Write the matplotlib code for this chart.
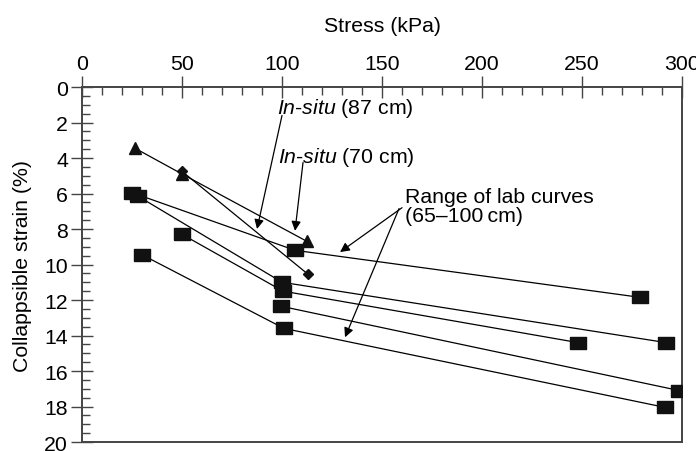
import matplotlib.pyplot as plt
from matplotlib.ticker import MultipleLocator

plt.rcParams["font.family"] = ["Liberation Sans", "DejaVu Sans"]
plt.rcParams["mathtext.fontset"] = "custom"
plt.rcParams["mathtext.rm"] = "Liberation Sans"
plt.rcParams["mathtext.it"] = "Liberation Sans:italic"

# ── Daten ─────────────────────────────────────────────────────────────────────
lab_stress = [
    [25, 106.5, 279],
    [28, 100, 292],
    [50, 100.5, 248],
    [99.5, 298.5],
    [30, 101, 291.5],
]
lab_strain = [
    [5.95, 9.2, 11.85],
    [6.15, 11.0, 14.4],
    [8.3, 11.5, 14.4],
    [12.35, 17.1],
    [9.45, 13.6, 18.05],
]

insitu70_stress = [26.5, 50, 112.5]
insitu70_strain = [3.45, 4.9, 8.7]

insitu87_stress = [50, 113]
insitu87_strain = [4.75, 10.55]

# ── Figur ─────────────────────────────────────────────────────────────────────
fig = plt.figure(figsize=(6.96, 4.52), dpi=100)
ax = fig.add_axes([0.1178, 0.0199, 0.8622, 0.7854])

rect = [(-1.35, -1), (1.35, -1), (1.35, 1), (-1.35, 1), (-1.35, -1)]
fc = "#111111"

for xs, ys in zip(lab_stress, lab_strain):
    ax.plot(xs, ys, color="black", linewidth=0.9, marker=rect,
            markersize=11, markerfacecolor=fc, markeredgecolor=fc, zorder=3)

ax.plot(insitu70_stress, insitu70_strain, color="black", linewidth=0.9,
        marker="^", markersize=8, markerfacecolor=fc, markeredgecolor=fc,
        zorder=3)
ax.plot(insitu87_stress, insitu87_strain, color="black", linewidth=0.9,
        marker="D", markersize=5.5, markerfacecolor=fc, markeredgecolor=fc,
        zorder=4)

# ── Achsen ────────────────────────────────────────────────────────────────────
fs = 15.3
ax.set_xlim(0, 300)
ax.set_ylim(20, 0)
ax.xaxis.tick_top()
ax.xaxis.set_label_position("top")
ax.set_xlabel("Stress (kPa)", fontsize=fs, labelpad=17)
ax.set_ylabel("Collappsible strain (%)", fontsize=fs, labelpad=9)

ax.xaxis.set_major_locator(MultipleLocator(50))
ax.xaxis.set_minor_locator(MultipleLocator(10))
ax.yaxis.set_major_locator(MultipleLocator(2))
ax.yaxis.set_minor_locator(MultipleLocator(0.5))

spine_col = "#444444"
ax.tick_params(axis="both", which="major", direction="inout", length=16,
               width=1.0, color=spine_col, labelsize=fs, pad=2)
ax.tick_params(axis="both", which="minor", direction="in", length=6,
               width=1.0, color=spine_col)
ax.tick_params(axis="x", which="both", bottom=False, top=True)
ax.tick_params(axis="y", which="both", left=True, right=False)

for sp in ax.spines.values():
    sp.set_color(spine_col)
    sp.set_linewidth(1.4)

# ── Beschriftungen mit Pfeilen ────────────────────────────────────────────────
arrow = dict(arrowstyle="-|>", color="black", linewidth=0.9,
             mutation_scale=14, shrinkA=0, shrinkB=0)

ax.text(97.5, 1.13, "$\\it{In}$-$\\it{situ}$ (87 cm)", fontsize=fs,
        va="center", ha="left")
ax.annotate("", xy=(87.5, 8.0), xytext=(100, 1.6), arrowprops=arrow)

ax.text(98, 3.9, "$\\it{In}$-$\\it{situ}$ (70 cm)", fontsize=fs,
        va="center", ha="left")
ax.annotate("", xy=(106.5, 8.1), xytext=(110.5, 4.25), arrowprops=arrow)

ax.text(161.5, 6.7, "Range of lab curves\n(65–100\u2009cm)", fontsize=fs,
        va="center", ha="left", linespacing=1.0)
ax.annotate("", xy=(129, 9.3), xytext=(160, 6.8), arrowprops=arrow)
ax.annotate("", xy=(131.5, 14.1), xytext=(158.5, 6.85), arrowprops=arrow)

fig.savefig("out.png", dpi=100)
